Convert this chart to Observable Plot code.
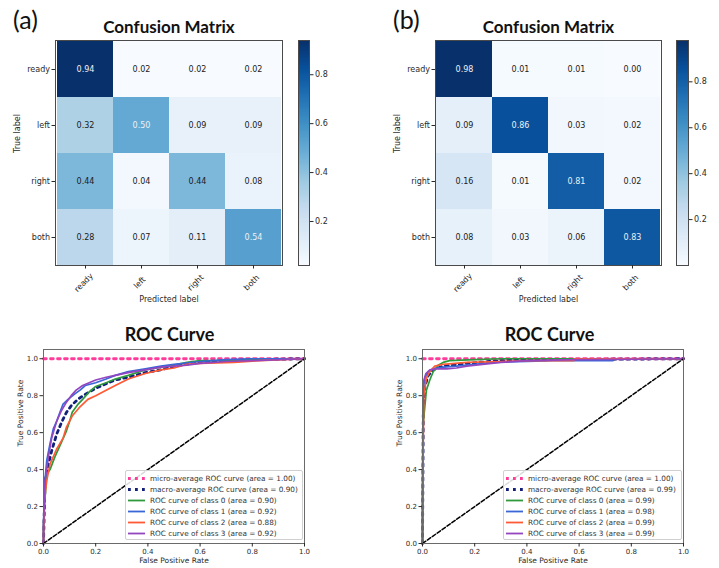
<!DOCTYPE html>
<html><head><meta charset="utf-8">
<script src="https://cdn.jsdelivr.net/npm/d3@7"></script>
<script src="https://cdn.jsdelivr.net/npm/@observablehq/plot@0.6"></script>
<style>
body{margin:0;background:#fff}
#fig{position:relative;width:719px;height:568px;overflow:hidden;background:#fff;font-family:"DejaVu Sans",sans-serif}
#fig > svg, #fig > div{position:absolute}
.panel{font-family:Lato,"Open Sans",sans-serif;font-size:25px;color:#111;line-height:1}
.legend{box-sizing:border-box;border:1px solid #cfcfcf;border-radius:2px;background:rgba(255,255,255,0.85);padding:1.5px 2px;font-family:"DejaVu Sans",sans-serif;font-size:7.3px;color:#333}
.legend .row{display:flex;align-items:center;height:11px;white-space:nowrap}
.legend .row span{margin-left:4px}
</style></head><body><div id="fig"></div>
<script>
// ---------- data ----------
const classes = ["ready", "left", "right", "both"];
const cmA = [
  [0.94, 0.02, 0.02, 0.02],
  [0.32, 0.50, 0.09, 0.09],
  [0.44, 0.04, 0.44, 0.08],
  [0.28, 0.07, 0.11, 0.54]
];
const cmB = [
  [0.98, 0.01, 0.01, 0.00],
  [0.09, 0.86, 0.03, 0.02],
  [0.16, 0.01, 0.81, 0.02],
  [0.08, 0.03, 0.06, 0.83]
];
const cbarDomainA = [0.02, 0.94];
const cbarDomainB = [0.00, 0.98];
const cbarTicks = [0.2, 0.4, 0.6, 0.8];
const rocTicks = [0, 0.2, 0.4, 0.6, 0.8, 1.0];

const diagonal = [[0, 0], [1, 1]];
const rocA_micro = [[0, 1], [1, 1]];
const rocA_macro = [[0,0],[0.006,0.34],[0.019,0.43],[0.031,0.50],[0.05,0.59],[0.069,0.655],[0.088,0.71],[0.106,0.745],[0.131,0.78],[0.163,0.81],[0.2,0.84],[0.24,0.865],[0.275,0.885],[0.325,0.90],[0.39,0.925],[0.45,0.94],[0.5,0.96],[0.6,0.98],[0.7,0.99],[0.8,0.995],[1,1]];
const rocA_class0 = [[0,0],[0,0.1],[0.006,0.25],[0.0125,0.375],[0.025,0.40],[0.044,0.47],[0.063,0.53],[0.088,0.61],[0.1,0.66],[0.11,0.71],[0.13,0.75],[0.15,0.78],[0.175,0.82],[0.2,0.85],[0.24,0.87],[0.275,0.89],[0.325,0.91],[0.39,0.94],[0.45,0.955],[0.5,0.965],[0.55,0.98],[0.6,0.99],[0.7,0.99],[0.8,0.995],[1,1]];
const rocA_class1 = [[0,0],[0,0.07],[0.003,0.30],[0.0125,0.45],[0.025,0.54],[0.0375,0.62],[0.05,0.66],[0.063,0.71],[0.075,0.755],[0.094,0.78],[0.12,0.81],[0.14,0.83],[0.16,0.855],[0.2,0.87],[0.24,0.89],[0.275,0.91],[0.325,0.93],[0.39,0.945],[0.45,0.96],[0.5,0.97],[0.6,0.985],[0.7,0.995],[0.8,1],[1,1]];
const rocA_class2 = [[0,0],[0,0.05],[0.003,0.23],[0.0125,0.34],[0.025,0.43],[0.05,0.51],[0.075,0.57],[0.088,0.63],[0.11,0.69],[0.14,0.74],[0.17,0.78],[0.2,0.80],[0.24,0.83],[0.275,0.855],[0.325,0.89],[0.39,0.92],[0.45,0.94],[0.5,0.95],[0.55,0.97],[0.6,0.975],[0.73,0.98],[0.83,0.99],[1,1]];
const rocA_class3 = [[0,0],[0,0.1],[0.006,0.34],[0.019,0.47],[0.031,0.57],[0.05,0.66],[0.069,0.72],[0.088,0.765],[0.106,0.80],[0.125,0.83],[0.15,0.855],[0.175,0.87],[0.2,0.885],[0.24,0.90],[0.275,0.91],[0.325,0.925],[0.39,0.94],[0.45,0.955],[0.55,0.965],[0.6,0.975],[0.7,0.985],[0.8,0.99],[1,1]];

const rocB_micro = [[0, 1], [1, 1]];
const rocB_macro = [[0,0],[0.003,0.70],[0.009,0.85],[0.022,0.91],[0.041,0.94],[0.079,0.96],[0.17,0.975],[0.3,0.99],[0.5,0.995],[1,1]];
const rocB_class0 = [[0,0],[0.001,0.3],[0.0025,0.65],[0.009,0.74],[0.015,0.83],[0.028,0.885],[0.041,0.93],[0.06,0.965],[0.079,0.98],[0.104,0.99],[0.2,0.995],[0.3,1],[1,1]];
const rocB_class1 = [[0,0],[0.001,0.4],[0.003,0.83],[0.009,0.90],[0.022,0.93],[0.041,0.945],[0.079,0.955],[0.13,0.96],[0.2,0.97],[0.27,0.98],[0.4,0.985],[0.5,0.99],[0.73,0.99],[0.73,1],[1,1]];
const rocB_class2 = [[0,0],[0.001,0.35],[0.005,0.80],[0.015,0.895],[0.028,0.93],[0.047,0.96],[0.079,0.97],[0.17,0.98],[0.3,0.985],[0.4,0.99],[0.58,0.99],[0.58,1],[1,1]];
const rocB_class3 = [[0,0],[0,0.15],[0.001,0.56],[0.003,0.87],[0.013,0.92],[0.028,0.94],[0.053,0.945],[0.092,0.945],[0.13,0.95],[0.17,0.96],[0.23,0.97],[0.3,0.98],[0.4,0.99],[0.6,0.995],[1,1]];

const aucA = [1.00, 0.90, 0.90, 0.92, 0.88, 0.92];
const aucB = [1.00, 0.99, 0.99, 0.98, 0.99, 0.99];
const legendNames = ["micro-average ROC curve", "macro-average ROC curve", "ROC curve of class 0", "ROC curve of class 1", "ROC curve of class 2", "ROC curve of class 3"];

// ---------- styles ----------
const blues9 = ["#f7fbff","#deebf7","#c6dbef","#9ecae1","#6baed6","#4292c6","#2171b5","#08519c","#08306b"];
const bluesInterp = d3.piecewise(d3.interpolateRgb, blues9);
const curveColors = ["#ff3c9a", "#12207a", "#2e9a3c", "#3a66d6", "#ff5a36", "#9346c0"];
const dotted = {strokeWidth: 2.8, strokeDasharray: "2.8,4.2"};
const solid = {strokeWidth: 1.7};
const fig = document.getElementById("fig");

function place(el, left, top) {
  el.style.left = left + "px";
  el.style.top = top + "px";
  fig.appendChild(el);
}

function confusion(cm, domain, width, marginLeft, marginRight) {
  const cells = [];
  cm.forEach((row, i) => row.forEach((v, j) => cells.push({t: classes[i], p: classes[j], v})));
  const thresh = d3.max(cells, d => d.v) / 2;
  return Plot.plot({
    width, height: 310, marginLeft, marginRight, marginTop: 40, marginBottom: 45,
    style: {fontFamily: "DejaVu Sans", fontSize: "8px", color: "#2a2a2a", background: "transparent", overflow: "visible"},
    x: {domain: classes, padding: 0, label: null},
    y: {domain: classes, padding: 0, label: null},
    color: {type: "linear", domain, interpolate: bluesInterp},
    marks: [
      Plot.cell(cells, {x: "p", y: "t", fill: "v"}),
      Plot.text(cells.filter(d => d.v <= thresh), {x: "p", y: "t", text: d => d.v.toFixed(2), fill: "#1a1a1a"}),
      Plot.text(cells.filter(d => d.v > thresh), {x: "p", y: "t", text: d => d.v.toFixed(2), fill: "#eef0f6"}),
      Plot.frame({stroke: "#4a4a4a"}),
      Plot.axisY({tickSize: 3.5, tickPadding: 2, label: null}),
      Plot.axisX({tickSize: 3.5, tickFormat: () => "", label: null}),
      Plot.text(classes, {x: d => d, frameAnchor: "bottom", dy: 19, rotate: -45}),
      Plot.text(["Predicted label"], {frameAnchor: "bottom", dy: 36}),
      Plot.text(["True label"], {frameAnchor: "left", dx: -38, rotate: -90}),
      Plot.text(["Confusion Matrix"], {frameAnchor: "top", dy: -8, lineAnchor: "bottom", fontFamily: "Lato", fontWeight: "bold", fontSize: 17, fill: "#111"})
    ]
  });
}

function colorbar(domain, width, marginRight) {
  return Plot.plot({
    width, height: 310, marginLeft: 0, marginRight, marginTop: 40, marginBottom: 45,
    style: {fontFamily: "DejaVu Sans", fontSize: "8px", color: "#2a2a2a", background: "transparent"},
    x: {domain: [0, 1], axis: null},
    y: {domain, label: null},
    color: {type: "linear", domain, interpolate: bluesInterp},
    marks: [
      Plot.raster({fill: (x, y) => y, x1: 0, x2: 1, y1: domain[0], y2: domain[1], width: 2, height: 256}),
      Plot.frame({stroke: "#4a4a4a"}),
      Plot.axisY({anchor: "right", ticks: cbarTicks, tickFormat: d => d.toFixed(1), tickSize: 3.5, tickPadding: 2, label: null})
    ]
  });
}

function roc(curves, width, marginLeft, marginRight, titleDx) {
  const [micro, macro, c0, c1, c2, c3] = curves;
  const xy = {x: d => d[0], y: d => d[1]};
  return Plot.plot({
    width, height: 258, marginLeft, marginRight, marginTop: 39, marginBottom: 25,
    style: {fontFamily: "DejaVu Sans", fontSize: "7px", color: "#2a2a2a", background: "transparent", overflow: "visible"},
    x: {domain: [0, 1], label: null},
    y: {domain: [0, 1.05], label: null},
    marks: [
      Plot.line(micro, {...xy, stroke: curveColors[0], ...dotted}),
      Plot.line(macro, {...xy, stroke: curveColors[1], ...dotted}),
      Plot.line(c0, {...xy, stroke: curveColors[2], ...solid}),
      Plot.line(c1, {...xy, stroke: curveColors[3], ...solid}),
      Plot.line(c2, {...xy, stroke: curveColors[4], ...solid}),
      Plot.line(c3, {...xy, stroke: curveColors[5], ...solid}),
      Plot.line(diagonal, {...xy, stroke: "#000", strokeWidth: 1.5, strokeDasharray: "4,2"}),
      Plot.frame({stroke: "#6a6a6a"}),
      Plot.axisX({ticks: rocTicks, tickFormat: d => d.toFixed(1), tickSize: 3.5, tickPadding: 2, label: null}),
      Plot.axisY({ticks: rocTicks, tickFormat: d => d.toFixed(1), tickSize: 3.5, tickPadding: 2, label: null}),
      Plot.text(["False Positive Rate"], {frameAnchor: "bottom", dy: 19, fontSize: 7.5}),
      Plot.text(["True Positive Rate"], {frameAnchor: "left", dx: -23, rotate: -90, fontSize: 7.5}),
      Plot.text(["ROC Curve"], {frameAnchor: "top", dx: titleDx, dy: -9, lineAnchor: "bottom", fontFamily: "Lato", fontWeight: "bold", fontSize: 18, fill: "#111"})
    ]
  });
}

function legend(aucs, width) {
  const div = document.createElement("div");
  div.className = "legend";
  div.style.width = width + "px";
  div.style.height = "70px";
  legendNames.forEach((name, i) => {
    const row = document.createElement("div");
    row.className = "row";
    const style = i < 2 ? `stroke-width:2.8;stroke-dasharray:2.8,4.2` : `stroke-width:1.8`;
    row.innerHTML = `<svg width="18" height="11"><line x1="0" x2="17" y1="5.5" y2="5.5" style="stroke:${curveColors[i]};${style}"/></svg><span>${name} (area = ${aucs[i].toFixed(2)})</span>`;
    div.appendChild(row);
  });
  return div;
}

function label(text) {
  const div = document.createElement("div");
  div.className = "panel";
  div.textContent = text;
  return div;
}

// ---------- layout ----------
place(confusion(cmA, cbarDomainA, 290, 55, 8), 0, 0);
place(colorbar(cbarDomainA, 40, 29), 298, 0);
place(confusion(cmB, cbarDomainB, 310, 75, 9), 360, 0);
place(colorbar(cbarDomainB, 43, 31), 676, 0);

place(roc([rocA_micro, rocA_macro, rocA_class0, rocA_class1, rocA_class2, rocA_class3], 320, 43, 16, -4.5), 0, 310);
place(roc([rocB_micro, rocB_macro, rocB_class0, rocB_class1, rocB_class2, rocB_class3], 340, 62, 17, -3.5), 360, 310);

place(legend(aucA, 178), 125, 470);
place(legend(aucB, 179), 503, 470);

place(label("(a)"), 13, 7);
place(label("(b)"), 393, 7);
</script></body></html>
